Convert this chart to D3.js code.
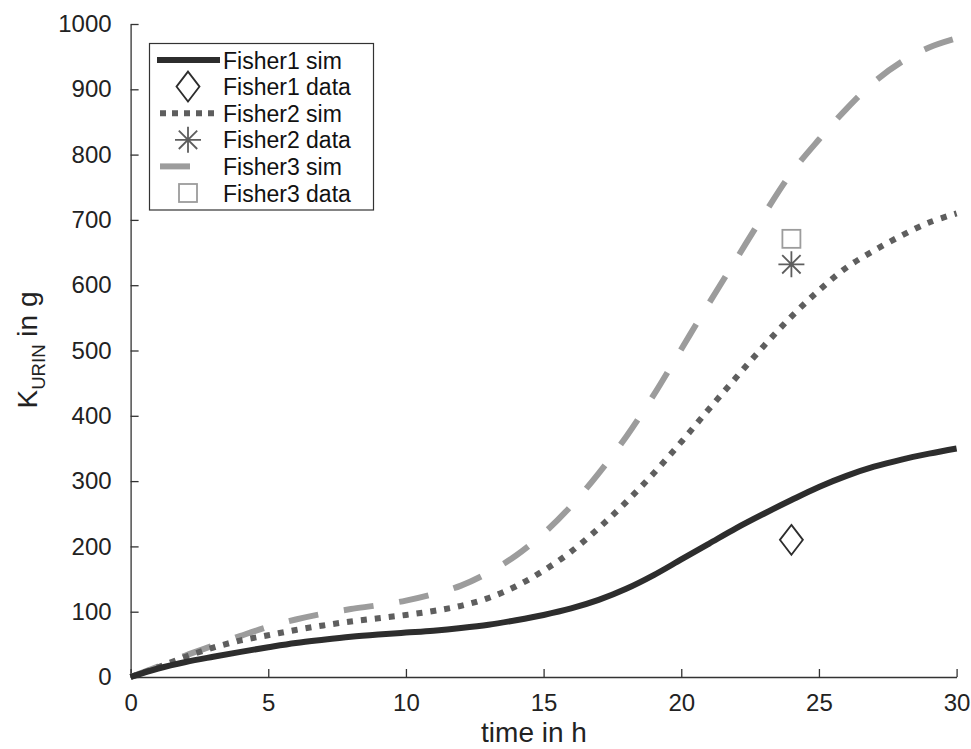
<!DOCTYPE html>
<html>
<head>
<meta charset="utf-8">
<script src="https://cdn.jsdelivr.net/npm/d3@7"></script>
<style>
  body { margin: 0; background: #fff; }
  text { font-family: "Liberation Sans", Arial, Helvetica, sans-serif; }
</style>
</head>
<body>
<svg id="chart" width="971" height="749"></svg>
<script>
// ---- data ----
const time = [0,1,2,3,4,5,6,7,8,9,10,11,12,13,14,15,16,17,18,19,20,21,22,23,24,25,26,27,28,29,30];
const fisher1Sim = [0,13,23,31,38.5,45.5,52,57,61.5,65,68,71,75,80,87,95,105,118,135,156,180,204,228,250,271,291,308,322,333,342,350];
const fisher2Sim = [0,15,31,45,56,64,72,79,85,90,95,101,109,121,139,163,192,228,268,312,360,410,459,507,552,592,627,653,676,696,710];
const fisher3Sim = [0,16,33,48,63,77,88,97,104,110,117,127,140,160,186,220,262,312,368,432,502,572,640,708,772,823,870,911,942,964,978];
const dataTime = [24];
const fisher1Data = [210];
const fisher2Data = [632];
const fisher3Data = [671];
const xTicks = [0,5,10,15,20,25,30];
const yTicks = [0,100,200,300,400,500,600,700,800,900,1000];
const legendLabels = ["Fisher1 sim","Fisher1 data","Fisher2 sim","Fisher2 data","Fisher3 sim","Fisher3 data"];

// ---- setup ----
const svg = d3.select("#chart");
const x = d3.scaleLinear().domain([0,30]).range([130.6, 956.6]);
const y = d3.scaleLinear().domain([0,1000]).range([677, 24]);

const c1 = "#2d2d2d", c2 = "#5e5e5e", c3 = "#9c9c9c";

// axes
const xAxis = d3.axisBottom(x).tickValues(xTicks).tickFormat(d3.format("d")).tickSize(-8).tickSizeOuter(0).tickPadding(17);
const yAxis = d3.axisLeft(y).tickValues(yTicks).tickFormat(d3.format("d")).tickSize(-8).tickSizeOuter(0).tickPadding(19);

const gx = svg.append("g").attr("transform", `translate(0,${y(0)})`).call(xAxis);
const gy = svg.append("g").attr("transform", `translate(${x(0)},0)`).call(yAxis);
[gx, gy].forEach(g => {
  g.attr("font-size", null).attr("font-family", null);
  g.selectAll("path.domain").attr("stroke", "#333").attr("stroke-width", 1.3);
  g.selectAll(".tick line").attr("stroke", "#333").attr("stroke-width", 1.3);
  g.selectAll(".tick text").attr("fill", "#222").style("font-size", "24px")
    .style("font-family", '"Liberation Sans", Arial, sans-serif');
});

// axis labels
svg.append("text").attr("x", 534).attr("y", 742).attr("text-anchor", "middle")
  .style("font-size", "28px").attr("fill", "#222").text("time in h");

const yl = svg.append("text").attr("transform", "translate(37,350) rotate(-90)")
  .attr("text-anchor", "middle").style("font-size", "28px").attr("fill", "#222");
yl.append("tspan").text("K");
yl.append("tspan").attr("dy", 8).style("font-size", "18.6px").text("URIN");
yl.append("tspan").attr("dy", -8).text(" in g");

// lines
const line = d3.line().x(d => x(d[0])).y(d => y(d[1])).curve(d3.curveCatmullRom.alpha(0.5));
const series = [
  {vals: fisher3Sim, color: c3, dash: "30,26"},
  {vals: fisher2Sim, color: c2, dash: "6,8"},
  {vals: fisher1Sim, color: c1, dash: null}
];
series.forEach(s => {
  svg.append("path")
    .datum(time.map((t, i) => [t, s.vals[i]]))
    .attr("d", line)
    .attr("fill", "none")
    .attr("stroke", s.color)
    .attr("stroke-width", 6)
    .attr("stroke-dasharray", s.dash)
    .attr("stroke-linecap", "butt");
});

// markers
function diamond(g, cx, cy, color) {
  g.append("path")
    .attr("d", `M${cx},${cy-15} L${cx+11.5},${cy} L${cx},${cy+15} L${cx-11.5},${cy} Z`)
    .attr("fill", "none").attr("stroke", color).attr("stroke-width", 1.8);
}
function asterisk(g, cx, cy, color) {
  const r = 13, d = 9.2;
  const p = `M${cx-r},${cy} L${cx+r},${cy} M${cx},${cy-r} L${cx},${cy+r} M${cx-d},${cy-d} L${cx+d},${cy+d} M${cx-d},${cy+d} L${cx+d},${cy-d}`;
  g.append("path").attr("d", p).attr("fill", "none").attr("stroke", color).attr("stroke-width", 1.8);
}
function square(g, cx, cy, color) {
  g.append("rect").attr("x", cx-9).attr("y", cy-9).attr("width", 18).attr("height", 18)
    .attr("fill", "none").attr("stroke", color).attr("stroke-width", 1.8);
}

const mg = svg.append("g");
dataTime.forEach((t, i) => {
  diamond(mg, x(t), y(fisher1Data[i]), c1);
  asterisk(mg, x(t), y(fisher2Data[i]), c2);
  square(mg, x(t), y(fisher3Data[i]), c3);
});

// legend
const lg = svg.append("g");
lg.append("rect").attr("x", 149.5).attr("y", 43.5).attr("width", 224).attr("height", 166.5)
  .attr("fill", "#fff").attr("stroke", "#333").attr("stroke-width", 1.2);
const rowY = i => 60 + i * 26.6;
legendLabels.forEach((lab, i) => {
  const ry = rowY(i);
  lg.append("text").attr("x", 223).attr("y", ry + 8.5).style("font-size", "23px")
    .attr("fill", "#111").text(lab);
});
// legend samples
lg.append("line").attr("x1", 157).attr("x2", 220).attr("y1", rowY(0)).attr("y2", rowY(0))
  .attr("stroke", c1).attr("stroke-width", 6);
diamond(lg, 188, rowY(1), c1);
lg.append("line").attr("x1", 160).attr("x2", 220).attr("y1", rowY(2)).attr("y2", rowY(2))
  .attr("stroke", c2).attr("stroke-width", 6).attr("stroke-dasharray", "6,6");
asterisk(lg, 188, rowY(3), c2);
lg.append("line").attr("x1", 160).attr("x2", 220).attr("y1", rowY(4)).attr("y2", rowY(4))
  .attr("stroke", c3).attr("stroke-width", 6).attr("stroke-dasharray", "30,40");
square(lg, 188, rowY(5), c3);
</script>
</body>
</html>
